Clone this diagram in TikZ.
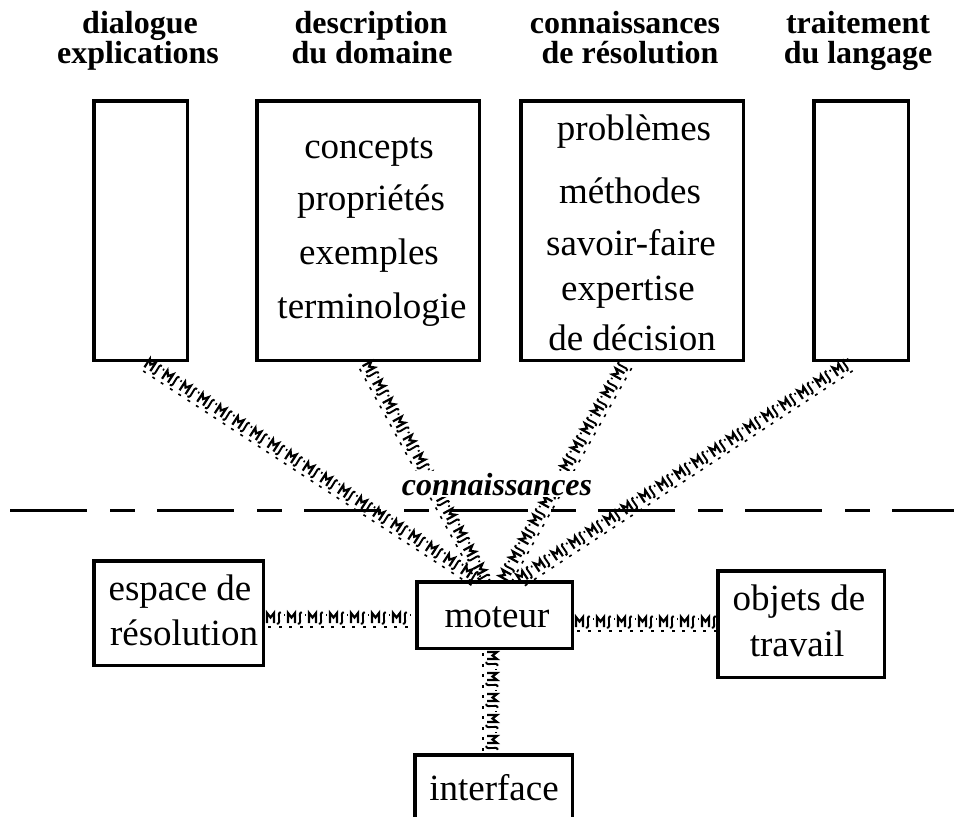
\documentclass[tikz,border=0pt]{standalone}
\usepackage{fontspec}
\setmainfont{Liberation Serif}
\usetikzlibrary{calc,decorations.markings}

\tikzset{
  x=1pt, y=1pt,
  box/.style n args={2}{draw, line width=3.5pt, inner sep=0pt,
    minimum width=#1, minimum height=#2},
  head/.style={anchor=base, inner sep=0pt,
    font=\fontsize{32}{32}\selectfont\bfseries},
  body/.style={anchor=base, inner sep=0pt,
    font=\fontsize{37}{37}\selectfont},
  % patterned band used for the links: one motif every 21pt
  motif/.pic={
    \draw[line width=2.2pt, line join=miter, line cap=butt]
      (-9,-5) -- (-9,5) -- (-5.5,0.5) -- (-2,5) -- (-2,-5);
    \draw[line width=1.9pt, line cap=butt]
      (5,5.5) .. controls (2.5,6.5) and (2.5,2) .. (3,0)
      .. controls (3.5,-2) and (3.5,-6.5) .. (0.8,-5.8);
    \fill (-8,-8) rectangle (-5,-9.6);
    \fill (3,-8) rectangle (6,-9.6);
    \fill (7.5,2.5) rectangle (9,4.5);
  },
  link/.style={decoration={markings,
      mark=between positions 11pt and -3pt step 21pt with {\pic[transform shape] {motif};}},
    postaction={decorate}},
  rule/.style={line width=3pt, dash pattern=on 77pt off 23pt on 25pt off 22pt}
}

\begin{document}
\begin{tikzpicture}
\useasboundingbox (0,0) rectangle (954,-817);
\clip (0,0) rectangle (954,-817);

% column headings
\node[head] (h1a) at (140,-33) {dialogue};
\node[head] (h1b) at (138,-63) {explications};
\node[head] (h2a) at (371,-33) {description};
\node[head] (h2b) at (372,-63) {du domaine};
\node[head] (h3a) at (625,-33) {connaissances};
\node[head] (h3b) at (630,-63) {de résolution};
\node[head] (h4a) at (858,-33) {traitement};
\node[head] (h4b) at (858,-63) {du langage};

% knowledge boxes
\node[box={93.5}{259.5}] (b1) at (140.5,-230.5) {};
\node[box={222.5}{259.5}] (b2) at (368,-230.5) {};
\node[box={222.5}{259.5}] (b3) at (632,-230.5) {};
\node[box={94.5}{259.5}] (b4) at (861,-230.5) {};

\node[body] (t21) at (369,-158) {concepts};
\node[body] (t22) at (371,-210) {propriétés};
\node[body] (t23) at (369,-264) {exemples};
\node[body] (t24) at (372,-318) {terminologie};

\node[body] (t31) at (634,-140) {problèmes};
\node[body] (t32) at (630,-203) {méthodes};
\node[body] (t33) at (631,-255) {savoir-faire};
\node[body] (t34) at (628,-300) {expertise};
\node[body] (t35) at (632,-350) {de décision};

% separation line
\coordinate (sepL) at (10,-510);
\coordinate (sepR) at (954,-510);
\draw[rule] (sepL) -- (sepR);

% processing boxes
\node[box={169.5}{104.5}] (esp) at (178.5,-613) {};
\node[body] (te1) at (180,-600) {espace de};
\node[body] (te2) at (184,-645) {résolution};

\node[box={155.5}{66.5}] (mot) at (494.5,-615) {};
\node[body] (tm) at (497,-627) {moteur};

\node[box={166.5}{106.5}] (obj) at (801,-624) {};
\node[body] (to1) at (799,-610) {objets de};
\node[body] (to2) at (797,-656) {travail};

\node[box={157.5}{100}] (int) at (493.5,-804.75) {};
\node[body] (ti) at (494,-800) {interface};

% link end points
\coordinate (e1) at ($(b1.south)+(5,0)$);
\coordinate (e2) at ($(b2.south)+(-2,0)$);
\coordinate (e3) at ($(b3.south)+(-7,0)$);
\coordinate (e4) at ($(b4.south)+(-11,0)$);
\coordinate (m1) at ($(mot.north)+(-15,0)$);
\coordinate (m2) at ($(mot.north)+(-9,0)$);
\coordinate (m3) at ($(mot.north)+(8,0)$);
\coordinate (m4) at ($(mot.north)+(23,0)$);
\coordinate (sE) at ($(esp.east)+(0,-5)$);
\coordinate (mW) at ($(mot.west)+(0,-3)$);
\coordinate (mE) at ($(mot.east)+(0,-7)$);
\coordinate (oW) at ($(obj.west)+(0,2)$);
\coordinate (mS) at ($(mot.south)+(-2.5,0)$);
\coordinate (iN) at ($(int.north)+(-1.5,0)$);

% links
\path[link] (e1) -- (m1);
\path[link] (e2) -- (m2);
\path[link] (m3) -- (e3);
\path[link] (m4) -- (e4);
\path[link] (sE) -- (mW);
\path[link] (mE) -- (oW);
\path[link] (mS) -- (iN);

% label of the knowledge level, over the links
\node[anchor=base, inner sep=2pt, fill=white,
  font=\fontsize{32}{32}\selectfont\bfseries\itshape] (conn) at (497,-495) {connaissances};
\end{tikzpicture}
\end{document}
